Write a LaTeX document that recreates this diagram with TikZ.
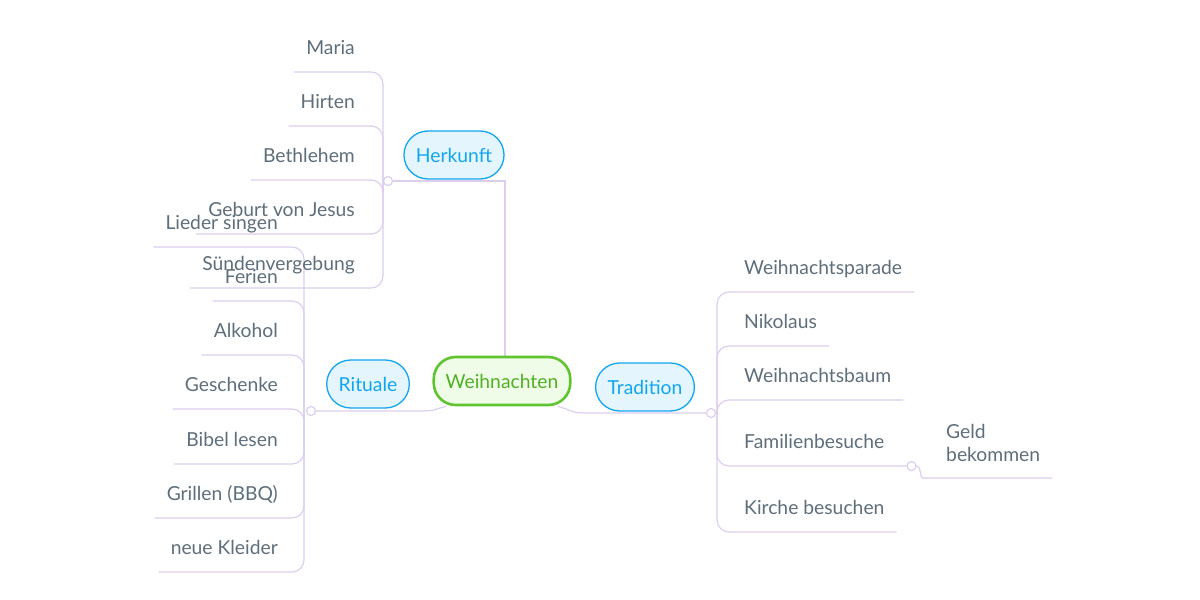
\documentclass[tikz,border=0pt]{standalone}
\usepackage{fontspec}
\setmainfont{Lato}
\usetikzlibrary{positioning, calc, backgrounds}
\definecolor{LeafGray}{RGB}{94,110,122}
\definecolor{Lilac}{RGB}{221,206,240}
\definecolor{RootGreen}{RGB}{96,196,48}
\definecolor{RootText}{RGB}{80,176,36}
\definecolor{RootFill}{RGB}{239,253,232}
\definecolor{TopicBlue}{RGB}{18,166,240}
\definecolor{TopicFill}{RGB}{228,245,253}
\tikzset{
  root/.style={draw=RootGreen, line width=2.6pt, fill=RootFill, text=RootText,
    rounded corners=22pt, minimum height=48pt, inner xsep=12pt,
    font=\fontsize{19.3}{22}\selectfont},
  topic/.style={draw=TopicBlue, line width=1.3pt, fill=TopicFill, text=TopicBlue,
    rounded corners=24pt, minimum height=48pt, inner xsep=12pt,
    font=\fontsize{19.3}{22}\selectfont},
  leafbase/.style={text=LeafGray, inner sep=0pt, font=\fontsize{19.3}{23}\selectfont},
  leaf/.style={leafbase, text height=14pt, text depth=4.5pt},
  branch/.style={draw=Lilac, line width=1.2pt, rounded corners=12pt},
  knot/.style={circle, draw=Lilac, fill=white, line width=1.2pt, inner sep=0pt,
    minimum size=9pt},
}
\begin{document}
\begin{tikzpicture}[x=1pt, y=-1pt]
  \useasboundingbox (0,0) rectangle (1200,600);
  % centre and main topics
  \node[root] (xmas) at (502,381) {Weihnachten};
  \node[topic] (herkunft) at (454,155) {Herkunft};
  \node[topic] (rituale) at (368,384) {Rituale};
  \node[topic] (tradition) at (645,387) {Tradition};
  \node[knot] (hkk) at (388,181) {};
  \node[knot] (rtk) at (311,411) {};
  \node[knot] (trk) at (711,413) {};

  % Herkunft
  \node[leaf, anchor=east] (maria) at (355,50) {Maria};
  \node[leaf, anchor=east] (hirten) at (355,104) {Hirten};
  \node[leaf, anchor=east] (bethlehem) at (355,158) {Bethlehem};
  \node[leaf, anchor=east] (geburt) at (355,212) {Geburt von Jesus};
  \node[leaf, anchor=east] (suende) at (355,266) {Sündenvergebung};

  % Rituale
  \node[leaf, anchor=east] (lieder) at (278,225) {Lieder singen};
  \node[leaf, anchor=east] (ferien) at (278,279) {Ferien};
  \node[leaf, anchor=east] (alkohol) at (278,333) {Alkohol};
  \node[leaf, anchor=east] (geschenke) at (278,387) {Geschenke};
  \node[leaf, anchor=east] (bibel) at (278,442) {Bibel lesen};
  \node[leaf, anchor=east] (grillen) at (278,496) {Grillen (BBQ)};
  \node[leaf, anchor=east] (kleider) at (278,550) {neue Kleider};

  % Tradition
  \node[leaf, anchor=west] (parade) at (744,270) {Weihnachtsparade};
  \node[leaf, anchor=west] (nikolaus) at (744,324) {Nikolaus};
  \node[leaf, anchor=west] (baum) at (744,378) {Weihnachtsbaum};
  \node[leaf, anchor=west] (besuche) at (744,444) {Familienbesuche};
  \node[leaf, anchor=west] (kirche) at (744,510) {Kirche besuchen};
  \node[knot] (fbk) at ([shift={(27,22)}]besuche.east) {};
  \node[leafbase, anchor=west, align=left] (geld) at (946,443) {Geld\\bekommen};

  \begin{scope}[on background layer]
    \draw[branch, rounded corners=0pt] ([xshift=3pt]xmas.north) |- (hkk);
    \draw[branch] ([xshift=14pt]xmas.south west) .. controls +(-15,4) and +(30,0) ..
      ([xshift=-28pt]xmas.south west |- rtk) -- (rtk);
    \draw[branch] ([xshift=-14pt]xmas.south east) .. controls +(15,4) and +(-30,0) ..
      ([xshift=28pt]xmas.south east |- trk) -- (trk);

    \foreach \n in {maria,hirten,bethlehem,geburt,suende}
      \draw[branch] ([xshift=-5pt]hkk.center) |- ([shift={(-12,22)}]\n.west);
    \foreach \n in {lieder,ferien,alkohol,geschenke,bibel,grillen,kleider}
      \draw[branch] ([xshift=-7pt]rtk.center) |- ([shift={(-12,22)}]\n.west);
    \foreach \n in {parade,nikolaus,baum,kirche}
      \draw[branch] ([xshift=6pt]trk.center) |- ([shift={(12,22)}]\n.east);
    \draw[branch] ([xshift=6pt]trk.center) |- (fbk);
    \draw[branch] (fbk) .. controls +(10,0) and +(-14,0) .. ([shift={(-12,35)}]geld.west)
      -- ([shift={(12,35)}]geld.east);
  \end{scope}
\end{tikzpicture}
\end{document}
